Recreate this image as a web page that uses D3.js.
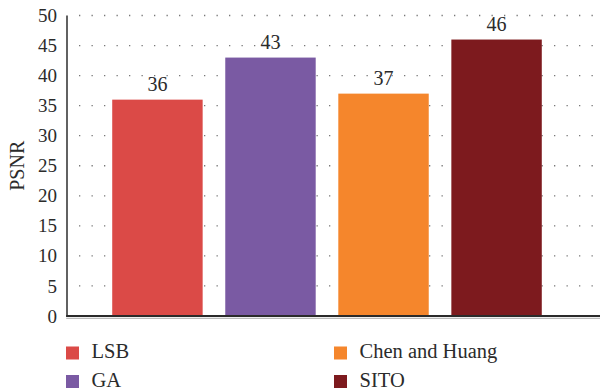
<!DOCTYPE html>
<html>
<head>
<meta charset="utf-8">
<script src="https://cdn.jsdelivr.net/npm/d3@7"></script>
</head>
<body style="margin:0">
<svg id="s" width="600" height="392" style="display:block"></svg>
<script>
// Methods compared and their PSNR values
const methods = ["LSB", "GA", "Chen and Huang", "SITO"];
const psnr = [36, 43, 37, 46];
const colors = ["#DB4A47", "#7A5AA3", "#F5862C", "#7D1A1E"];
const yTicks = [0, 5, 10, 15, 20, 25, 30, 35, 40, 45, 50];

const serifFace = "'Liberation Serif', 'Times New Roman', serif";
const ink = "#2b2b2b";

const svg = d3.select("#s").style("font-family", serifFace);
const plotLeft = 67, plotRight = 587, plotTop = 15.5, plotBottom = 316;

const x = d3.scaleBand().domain(methods).range([plotLeft, plotRight])
  .paddingInner(0.2).paddingOuter(0.4);
const y = d3.scaleLinear().domain([0, 50]).range([plotBottom, plotTop]);

// dotted horizontal grid
svg.append("g").selectAll("line").data(yTicks.filter(d => d > 0)).join("line")
  .attr("x1", plotLeft + 12).attr("x2", 600)
  .attr("y1", d => y(d)).attr("y2", d => y(d))
  .attr("stroke", "#777").attr("stroke-width", 1.3)
  .attr("stroke-dasharray", "1.3,11.2");

// y axis labels
const gy = svg.append("g").attr("transform", `translate(${plotLeft},0)`)
  .call(d3.axisLeft(y).tickValues(yTicks).tickSize(0).tickPadding(10));
gy.attr("font-family", null).attr("font-size", null);
gy.select(".domain").remove();
gy.selectAll("text").style("font-family", serifFace).style("font-size", "19px").attr("fill", ink);

// bars
svg.append("g").selectAll("rect").data(methods).join("rect")
  .attr("x", d => x(d)).attr("width", x.bandwidth())
  .attr("y", (d, i) => y(psnr[i]))
  .attr("height", (d, i) => y(0) - y(psnr[i]))
  .attr("fill", (d, i) => colors[i]);

// value labels above the bars
svg.append("g").selectAll("text").data(methods).join("text")
  .attr("x", d => x(d) + x.bandwidth() / 2)
  .attr("y", (d, i) => y(psnr[i]) - 8.5)
  .attr("text-anchor", "middle")
  .style("font-family", serifFace).style("font-size", "20px").attr("fill", ink)
  .text((d, i) => psnr[i]);

// axis lines
svg.append("line")
  .attr("x1", plotLeft).attr("x2", plotLeft)
  .attr("y1", plotTop).attr("y2", plotBottom + 1)
  .attr("stroke", "#3a3a3a").attr("stroke-width", 1.6);
svg.append("line").attr("x1", plotLeft - 0.8).attr("x2", 600)
  .attr("y1", plotBottom + 2.3).attr("y2", plotBottom + 2.3)
  .attr("stroke", "#bbb").attr("stroke-width", 1.2);
svg.append("line").attr("x1", plotLeft - 0.8).attr("x2", 600)
  .attr("y1", plotBottom).attr("y2", plotBottom)
  .attr("stroke", "#2a2a2a").attr("stroke-width", 2);

// y title
svg.append("text")
  .attr("transform", `translate(24,${(plotTop + plotBottom) / 2}) rotate(-90)`)
  .attr("text-anchor", "middle")
  .style("font-family", serifFace).style("font-size", "20px").attr("fill", ink)
  .text("PSNR");

// legend (two columns)
const legendPos = [[66, 346.5], [66, 375], [334, 346.5], [334, 375]];
const lg = svg.append("g").selectAll("g").data(methods).join("g")
  .attr("transform", (d, i) => `translate(${legendPos[i][0]},${legendPos[i][1]})`);
lg.append("rect").attr("x", 0).attr("y", 0).attr("width", 13).attr("height", 13)
  .attr("fill", (d, i) => colors[i]);
lg.append("text").attr("x", 25.5).attr("y", 11.5)
  .style("font-family", serifFace).style("font-size", "20.5px").attr("fill", ink)
  .text(d => d);
</script>
</body>
</html>
